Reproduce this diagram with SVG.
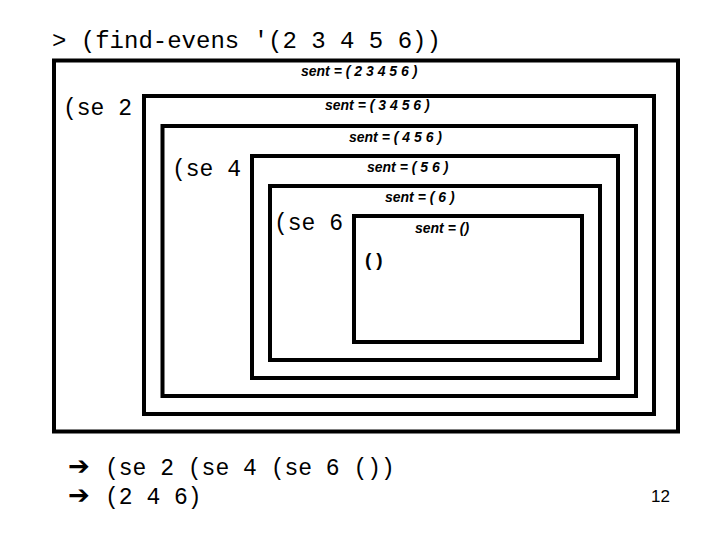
<svg xmlns="http://www.w3.org/2000/svg" width="720" height="540" viewBox="0 0 720 540">
<style>
.box{fill:none;stroke:#000;stroke-width:4}
.code{font-family:"Liberation Mono","Courier New",monospace;font-size:23px;fill:#000}
.sent{font-family:"Liberation Sans",Arial,sans-serif;font-size:14px;font-weight:bold;font-style:italic;fill:#000}
.arr{font-family:"DejaVu Sans",sans-serif;font-size:26px;font-weight:bold;fill:#000}
</style>
<rect width="720" height="540" fill="#fff"/>
<text class="code" x="52" y="48" style="font-size:24px">&gt; (find-evens '(2 3 4 5 6))</text>
<g id="frame1">
<rect class="box" x="54" y="60.5" width="624" height="371"/>
<text class="sent" x="301" y="76">sent = ( 2 3 4 5 6 )</text>
<text class="code" x="63" y="115">(se 2</text>
</g>
<g id="frame2">
<rect class="box" x="144" y="96" width="510" height="318"/>
<text class="sent" x="325" y="110">sent = ( 3 4 5 6 )</text>
</g>
<g id="frame3">
<rect class="box" x="162.5" y="126" width="473.5" height="270"/>
<text class="sent" x="349" y="142">sent = ( 4 5 6 )</text>
<text class="code" x="172" y="176">(se 4</text>
</g>
<g id="frame4">
<rect class="box" x="252" y="156" width="366" height="222"/>
<text class="sent" x="367" y="172">sent = ( 5 6 )</text>
</g>
<g id="frame5">
<rect class="box" x="270" y="186" width="330" height="174"/>
<text class="sent" x="385" y="202">sent = ( 6 )</text>
<text class="code" x="274" y="230">(se 6</text>
</g>
<g id="frame6">
<rect class="box" x="354" y="216" width="228" height="126"/>
<text class="sent" x="415" y="233">sent = ()</text>
<text class="sent" x="365" y="266" style="font-size:19px;font-style:normal;letter-spacing:5px">()</text>
</g>
<g id="result">
<text class="arr" x="68" y="475">➔</text>
<text class="code" x="105" y="475">(se 2 (se 4 (se 6 ())</text>
<text class="arr" x="68" y="504">➔</text>
<text class="code" x="105" y="504">(2 4 6)</text>
</g>
<text x="651" y="502" style="font-family:'Liberation Sans',Arial,sans-serif;font-size:17px;fill:#000">12</text>
</svg>
